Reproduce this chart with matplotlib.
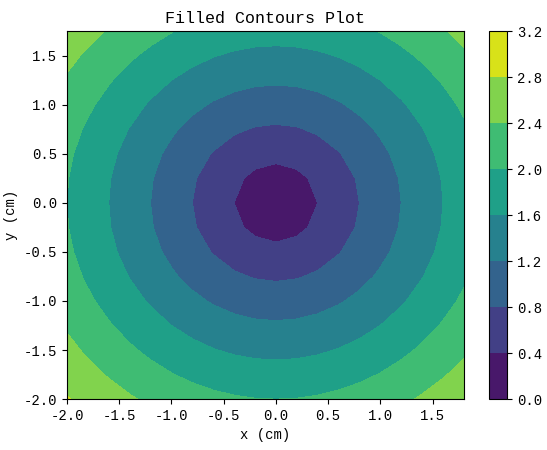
import numpy as np
import matplotlib
matplotlib.use('Agg')
import matplotlib.pyplot as plt

plt.rcParams['font.family'] = ['Liberation Mono', 'DejaVu Sans']
plt.rcParams['axes.unicode_minus'] = False

# grid coordinates (cm)
x_vals = [-2.0, -1.8, -1.6, -1.4, -1.2, -1.0, -0.8, -0.6, -0.4, -0.2,
          0.0, 0.2, 0.4, 0.6, 0.8, 1.0, 1.2, 1.4, 1.6, 1.8]
y_vals = [-2.0, -1.75, -1.5, -1.25, -1.0, -0.75, -0.5, -0.25,
          0.0, 0.25, 0.5, 0.75, 1.0, 1.25, 1.5, 1.75]
levels = [0.0, 0.4, 0.8, 1.2, 1.6, 2.0, 2.4, 2.8, 3.2]

X, Y = np.meshgrid(x_vals, y_vals)
Z = np.sqrt(X ** 2 + Y ** 2)

fig = plt.figure(figsize=(5.47, 4.5), dpi=100)
ax = fig.add_axes([0.1225, 0.113, 0.7255, 0.818])
cax = fig.add_axes([0.894, 0.113, 0.033, 0.818])

cp = ax.contourf(X, Y, Z, levels=levels, cmap='viridis')
fig.colorbar(cp, cax=cax, ticks=levels)

ax.set_title('Filled Contours Plot', fontsize=12)
ax.set_xlabel('x (cm)')
ax.set_ylabel('y (cm)')

fig.savefig('out.png', dpi=100)
